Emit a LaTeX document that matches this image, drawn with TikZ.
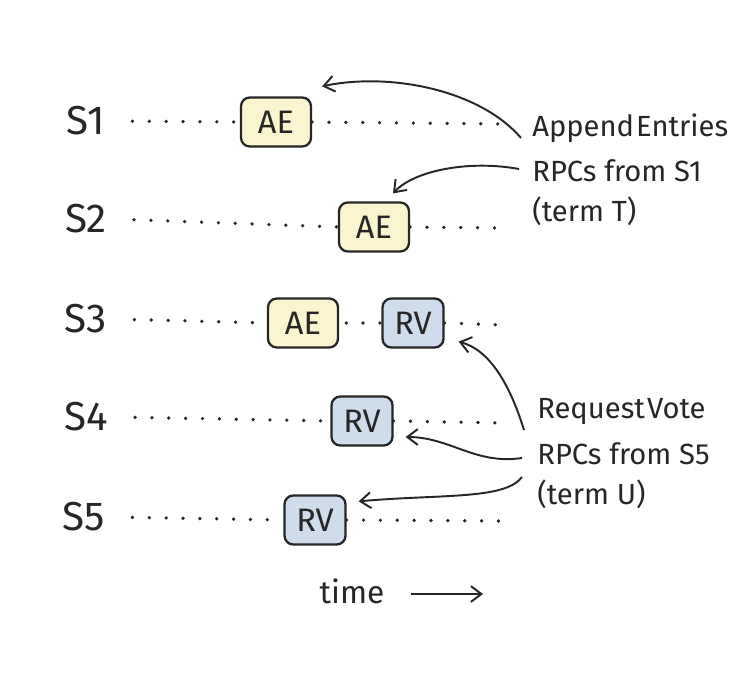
\documentclass[tikz,border=0pt]{standalone}
\usepackage{fontspec}
\setmainfont{Fira Sans}
\usetikzlibrary{arrows.meta}

\definecolor{aefill}{HTML}{FBF5CF}
\definecolor{rvfill}{HTML}{CFDCEC}
\definecolor{ink}{HTML}{262626}

\tikzset{
  srv/.style={font=\fontsize{23}{26}\selectfont, text=ink},
  msg/.style={draw=ink, line width=1.3pt, rounded corners=5pt,
    minimum height=0.98cm, inner sep=0pt, font=\fontsize{18.5}{21}\selectfont, text=ink},
  aebox/.style={msg, fill=aefill, minimum width=1.4cm},
  rvbox/.style={msg, fill=rvfill, minimum width=1.22cm},
  lane/.style={ink, line width=2.1pt, line cap=round, dash pattern=on 0pt off 9.6pt},
  note/.style={anchor=west, font=\fontsize{16.6}{20}\selectfont, text=ink, inner sep=0pt},
  rpc/.style={ink, line width=1.1pt, -{Straight Barb[length=6pt,width=9pt]}}
}

\begin{document}
\begin{tikzpicture}[x=0.02cm, y=-0.02cm]
  \useasboundingbox[fill=white] (0,0) rectangle (750,692);

  % server labels
  \node[srv] (s1) at (86,121) {S1};
  \node[srv] (s2) at (86,219) {S2};
  \node[srv] (s3) at (86,319) {S3};
  \node[srv] (s4) at (86,417) {S4};
  \node[srv] (s5) at (84,517) {S5};

  % messages on each server
  \node[aebox] (ae1) at (276,122) {AE};
  \node[aebox] (ae2) at (374,227) {AE};
  \node[aebox] (ae3) at (303,323) {AE};
  \node[rvbox] (rv3) at (413,323) {RV};
  \node[rvbox] (rv4) at (362,421) {RV};
  \node[rvbox] (rv5) at (315,520) {RV};

  % lane ends
  \coordinate (e1) at (503,124);
  \coordinate (e2) at (503,228);
  \coordinate (e3) at (503,325);
  \coordinate (e4) at (503,423);
  \coordinate (e5) at (501,521);

  % dotted time lines
  \draw[lane, shorten <=12pt] (s1.east) -- (ae1.west);
  \draw[lane] (ae1.east) -- (e1);
  \draw[lane, shorten <=12pt] (s2.east) -- (ae2.west);
  \draw[lane] (ae2.east) -- (e2);
  \draw[lane, shorten <=12pt] (s3.east) -- (ae3.west);
  \draw[lane, shorten <=4pt] (ae3.east) -- (rv3.west);
  \draw[lane] (rv3.east) -- (e3);
  \draw[lane, shorten <=12pt] (s4.east) -- (rv4.west);
  \draw[lane] (rv4.east) -- (e4);
  \draw[lane, shorten <=12pt] (s5.east) -- (rv5.west);
  \draw[lane] (rv5.east) -- (e5);

  % AppendEntries note
  \node[note] (aeA) at (532,128) {Append\kern1.2pt Entries};
  \node[note] (aeB) at (532,171) {RPCs from S1};
  \node[note] (aeC) at (532,211) {(term T)};

  % RequestVote note
  \node[note] (rvA) at (537,412) {Request\kern1.2pt Vote};
  \node[note] (rvB) at (537,454) {RPCs from S5};
  \node[note] (rvC) at (537,494) {(term U)};

  % arrows from the notes
  \draw[rpc] ([xshift=-0.22cm,yshift=-0.2cm]aeA.west)
    .. controls (480,90) and (390,72) .. ([xshift=0.2cm,yshift=0.2cm]ae1.north east);
  \draw[rpc] ([xshift=-0.26cm,yshift=0.04cm]aeB.west)
    .. controls (470,160) and (415,170) .. ([xshift=0.38cm,yshift=0.16cm]ae2.north);
  \draw[rpc] ([xshift=-0.26cm,yshift=-0.36cm]rvA.west)
    .. controls (510,385) and (490,350) .. ([xshift=0.28cm,yshift=0.14cm]rv3.south east);
  \draw[rpc] ([xshift=-0.3cm,yshift=-0.08cm]rvB.west)
    .. controls (475,465) and (450,437) .. ([xshift=0.24cm,yshift=-0.32cm]rv4.east);
  \draw[rpc] ([xshift=-0.3cm,yshift=0.34cm]rvC.west)
    .. controls (505,500) and (440,494) .. ([xshift=0.24cm,yshift=-0.14cm]rv5.north east);

  % time axis
  \node[srv, font=\fontsize{18}{21}\selectfont] (time) at (352,591) {time};
  \coordinate (tend) at (483,594);
  \draw[rpc, shorten <=0.4cm] (time.east |- tend) -- (tend);

\end{tikzpicture}
\end{document}
